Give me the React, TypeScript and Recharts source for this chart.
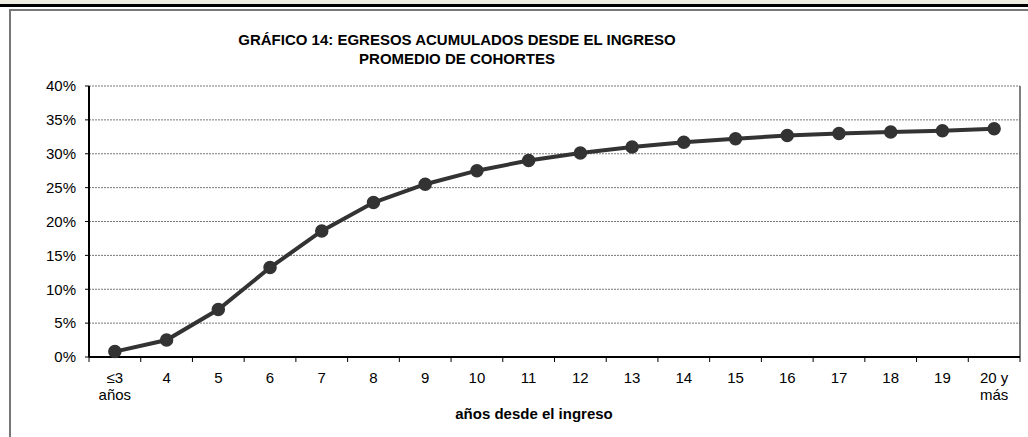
import { LineChart, Line, XAxis, YAxis, CartesianGrid, ReferenceLine } from 'recharts';

const yearsTop = ['≤3', '4', '5', '6', '7', '8', '9', '10', '11', '12', '13', '14', '15', '16', '17', '18', '19', '20 y'];
const yearsBottom = ['años', '', '', '', '', '', '', '', '', '', '', '', '', '', '', '', '', 'más'];
const egresos = [0.8, 2.5, 7.0, 13.2, 18.6, 22.8, 25.5, 27.5, 29.0, 30.1, 31.0, 31.7, 32.2, 32.7, 33.0, 33.2, 33.4, 33.7];
const yTicks = [0, 5, 10, 15, 20, 25, 30, 35, 40];

const data = yearsTop.map((y, i) => ({ pos: i + 0.5, top: y, bottom: yearsBottom[i], value: egresos[i] }));

// boundaries at integers, labels at half steps
const xTicks: number[] = [];
for (let i = 0; i <= yearsTop.length; i++) {
  xTicks.push(i);
  if (i < yearsTop.length) xTicks.push(i + 0.5);
}

const FONT = '"Liberation Sans", Arial, sans-serif';

function XTick(props: any) {
  const { x, y, payload } = props;
  const v = payload.value as number;
  if (Number.isInteger(v)) {
    return <line x1={x} x2={x} y1={y} y2={y + 5} stroke="#000" strokeWidth={1} />;
  }
  const idx = Math.floor(v);
  return (
    <g>
      <text x={x} y={y + 26} textAnchor="middle" fontSize={15} fontFamily={FONT} fill="#000">
        {yearsTop[idx]}
      </text>
      {yearsBottom[idx] && (
        <text x={x} y={y + 43} textAnchor="middle" fontSize={15} fontFamily={FONT} fill="#000">
          {yearsBottom[idx]}
        </text>
      )}
    </g>
  );
}

export default function App() {
  return (
    <div style={{ position: 'absolute', left: 0, top: 0, width: 1028, height: 437, background: '#fff', overflow: 'hidden', fontFamily: FONT }}>
      <div style={{ position: 'absolute', left: 0, top: 0, width: 1028, height: 4, background: '#efece2' }} />
      <div style={{ position: 'absolute', left: 0, top: 4, width: 1028, height: 3, background: '#000' }} />
      <div style={{ position: 'absolute', left: 9, top: 9, width: 1100, height: 500, borderTop: '2px solid #777', borderLeft: '2px solid #777' }} />

      <div style={{ position: 'absolute', left: 0, top: 30, width: 914, textAlign: 'center', fontWeight: 'bold', fontSize: 15, lineHeight: '19px', color: '#000' }}>
        GRÁFICO 14: EGRESOS ACUMULADOS DESDE EL INGRESO
        <br />
        PROMEDIO DE COHORTES
      </div>

      <div style={{ position: 'absolute', left: 0, top: 405, width: 1068, textAlign: 'center', fontWeight: 'bold', fontSize: 15, lineHeight: '17px', color: '#000' }}>
        años desde el ingreso
      </div>

      <div style={{ position: 'absolute', left: 0, top: 0 }}>
        <LineChart width={1028} height={437} data={data} margin={{ top: 86, right: 8, left: 0, bottom: 0 }}>
          <CartesianGrid vertical={false} stroke="#777" strokeDasharray="2 1" />
          <XAxis
            type="number"
            dataKey="pos"
            domain={[0, yearsTop.length]}
            ticks={xTicks}
            interval={0}
            height={80}
            tickLine={false}
            tickSize={0}
            tickMargin={0}
            tick={<XTick />}
            axisLine={{ stroke: '#000', strokeWidth: 2 }}
          />
          <YAxis
            domain={[0, 40]}
            ticks={yTicks}
            interval={0}
            width={89}
            tickSize={4}
            tickMargin={9}
            tickFormatter={(v: number) => `${v}%`}
            tick={{ fill: '#000', fontSize: 15, fontFamily: FONT }}
            tickLine={{ stroke: '#000' }}
            axisLine={{ stroke: '#000', strokeWidth: 2 }}
          />
          <ReferenceLine x={yearsTop.length} stroke="#555" strokeWidth={1.5} />
          <Line
            type="linear"
            dataKey="value"
            stroke="#333"
            strokeWidth={4}
            dot={{ r: 6, fill: '#333', stroke: '#333', strokeWidth: 1.5 }}
            isAnimationActive={false}
          />
        </LineChart>
      </div>
    </div>
  );
}
